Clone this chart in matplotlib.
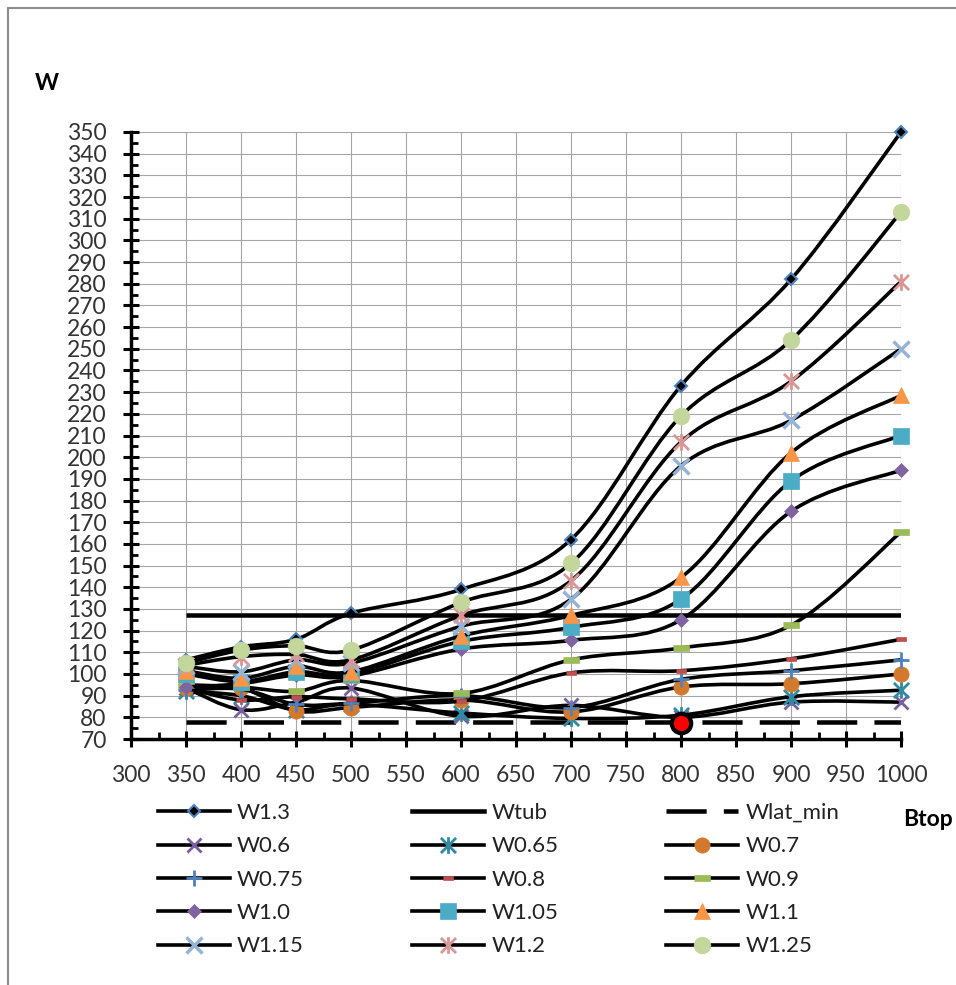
import numpy as np
import matplotlib
matplotlib.use("Agg")
import matplotlib.pyplot as plt
from matplotlib.path import Path
from matplotlib.patches import PathPatch, Rectangle
from matplotlib.lines import Line2D
from matplotlib.ticker import MultipleLocator

plt.rcParams['font.family'] = ['Lato', 'DejaVu Sans']

# ширина верха Btop
btop = [350, 400, 450, 500, 600, 700, 800, 900, 1000]

w_1_3 = [106.5, 112.5, 116, 128, 139, 162, 233, 282, 350]
w_0_6 = [93.5, 83.5, 87, 93.5, 80.5, 85.5, 80, 87, 87]
w_0_65 = [92, 90, 83.5, 86, 82, 79.5, 81, 89.5, 92.5]
w_0_7 = [93.5, 93.5, 83, 84.5, 88, 82.5, 94, 95.5, 100]
w_0_75 = [92.5, 93, 86, 86.5, 90, 84.5, 97.5, 101.5, 106.5]
w_0_8 = [93.5, 88, 89.5, 88.5, 87.5, 100.5, 101.5, 107, 116]
w_0_9 = [95, 94, 92, 97, 91, 106.5, 112, 122.5, 165.5]
w_1_0 = [94, 95.5, 99.5, 99, 111.5, 115.5, 125, 175, 194]
w_1_05 = [100, 96.5, 101, 100, 115, 121.5, 134.5, 189, 210]
w_1_1 = [101.5, 98, 103.5, 101, 117.5, 127, 144.5, 202, 228.5]
w_1_15 = [103.5, 101, 106.5, 105, 122, 134.5, 196, 217, 250]
w_1_2 = [104, 108, 109, 106.5, 127, 143, 207, 235, 281]
w_1_25 = [105, 111, 113, 111, 133, 151, 219, 254, 313]

w_tub = 127
w_lat_min = 78
opt_btop = [800]
opt_w = [77.5]


def smooth_path(xs, ys):
    """Сглаженная линия как в Excel (кривые Безье через точки)."""
    pts = np.column_stack([xs, ys]).astype(float)
    n = len(pts)
    verts = [pts[0]]
    codes = [Path.MOVETO]
    for i in range(n - 1):
        p0 = pts[max(i - 1, 0)]
        p1 = pts[i]
        p2 = pts[i + 1]
        p3 = pts[min(i + 2, n - 1)]
        verts += [p1 + (p2 - p0) / 6, p2 - (p3 - p1) / 6, p2]
        codes += [Path.CURVE4] * 3
    return Path(verts, codes)


star = Path([(-1, -1), (1, 1), (-1, 1), (1, -1), (0, -1.1), (0, 1.1)],
            [Path.MOVETO, Path.LINETO, Path.MOVETO, Path.LINETO, Path.MOVETO, Path.LINETO])
dash_wide = [(-1, -0.33), (1, -0.33), (1, 0.33), (-1, 0.33)]
dash_short = [(-1, -0.5), (1, -0.5), (1, 0.5), (-1, 0.5)]

LW = 2.6
styles = {
    'W1.3': dict(marker='D', ms=6.5, mfc='black', mec='#4f81bd', mew=1.5),
    'W0.6': dict(marker='x', ms=10, mfc='none', mec='#7a5ea0', mew=2),
    'W0.65': dict(marker=star, ms=12, mfc='none', mec='#2f8aa3', mew=2),
    'W0.7': dict(marker='o', ms=11, mfc='#d3792d', mec='#d3792d', mew=0.5),
    'W0.75': dict(marker='+', ms=12, mfc='none', mec='#4f81bd', mew=2),
    'W0.8': dict(marker=dash_short, ms=7, mfc='#c0504d', mec='#c0504d', mew=0.5),
    'W0.9': dict(marker=dash_wide, ms=11, mfc='#9bbb59', mec='#9bbb59', mew=0.5),
    'W1.0': dict(marker='D', ms=7.5, mfc='#8064a2', mec='#8064a2', mew=0.5),
    'W1.05': dict(marker='s', ms=11, mfc='#4bacc6', mec='#4bacc6', mew=0.5),
    'W1.1': dict(marker='^', ms=12, mfc='#f79646', mec='#f79646', mew=0.5),
    'W1.15': dict(marker='x', ms=11, mfc='none', mec='#95b3d7', mew=2.5),
    'W1.2': dict(marker=star, ms=12, mfc='none', mec='#d99694', mew=2),
    'W1.25': dict(marker='o', ms=12, mfc='#c3d69b', mec='#c3d69b', mew=0.5),
}

series = [
    ('W0.6', w_0_6), ('W0.65', w_0_65), ('W0.7', w_0_7), ('W0.75', w_0_75),
    ('W0.8', w_0_8), ('W0.9', w_0_9), ('W1.0', w_1_0), ('W1.05', w_1_05),
    ('W1.1', w_1_1), ('W1.15', w_1_15), ('W1.2', w_1_2), ('W1.25', w_1_25),
]

fig = plt.figure(figsize=(9.56, 9.85), dpi=100)
ax = fig.add_axes([131 / 956, 1 - 739 / 985, 770 / 956, 607 / 985])

z = 3
handles = {}

# W1.3
ax.add_patch(PathPatch(smooth_path(btop, w_1_3), fill=False, edgecolor='black',
                       lw=LW, zorder=z, clip_on=False))
ax.plot(btop, w_1_3, ls='none', zorder=z + 0.5, clip_on=False, **styles['W1.3'])
handles['W1.3'] = Line2D([], [], color='black', lw=LW, **styles['W1.3'])
z += 1

# Wtub и Wlat_min
ax.plot([btop[0], btop[-1]], [w_tub, w_tub], color='black', lw=3.25, zorder=z,
        solid_capstyle='butt')
handles['Wtub'] = Line2D([], [], color='black', lw=3.25)
z += 1
ax.plot([btop[0], btop[-1]], [w_lat_min, w_lat_min], color='black', lw=3.25,
        ls=(0, (8.9, 3.8)), zorder=z, dash_capstyle='butt')
handles['Wlat_min'] = Line2D([], [], color='black', lw=3.25, ls=(0, (8.9, 3.8)))
z += 1

for name, vals in series:
    ax.add_patch(PathPatch(smooth_path(btop, vals), fill=False, edgecolor='black',
                           lw=LW, zorder=z, clip_on=False))
    ax.plot(btop, vals, ls='none', zorder=z + 0.5, clip_on=False, **styles[name])
    handles[name] = Line2D([], [], color='black', lw=LW, **styles[name])
    z += 1

# точка минимума
ax.plot(opt_btop, opt_w, ls='none', marker='o', ms=14, mfc='red', mec='black',
        mew=3, zorder=z + 1, clip_on=False)

ax.set_xlim(300, 1000)
ax.set_ylim(70, 350)
ax.set_xticks(np.arange(300, 1001, 50))
ax.set_yticks(np.arange(70, 351, 10))
ax.xaxis.set_minor_locator(MultipleLocator(25))
ax.yaxis.set_minor_locator(MultipleLocator(5))
ax.grid(True, which='major', color='#a6a6a6', lw=0.8)
ax.set_axisbelow(True)
for s in ['top', 'right']:
    ax.spines[s].set_visible(False)
for s in ['left', 'bottom']:
    ax.spines[s].set_linewidth(2.5)
    ax.spines[s].set_zorder(2)
ax.tick_params(which='major', direction='inout', length=11, width=2.2,
               labelsize=16.5, labelcolor='#333333')
ax.tick_params(axis='y', which='major', pad=12)
ax.tick_params(axis='x', which='major', pad=13)
ax.tick_params(which='minor', direction='in', length=5, width=2)

order = ['W1.3', 'W0.6', 'W0.75', 'W1.0', 'W1.15',
         'Wtub', 'W0.65', 'W0.8', 'W1.05', 'W1.2',
         'Wlat_min', 'W0.7', 'W0.9', 'W1.1', 'W1.25']
fig.legend([handles[k] for k in order], order, ncol=3, loc='upper left',
           bbox_to_anchor=(158 / 956, 1 - 803 / 985), frameon=False,
           fontsize=16, handlelength=3.24, handletextpad=0.32,
           labelspacing=0.6, columnspacing=4.86, borderpad=0,
           borderaxespad=0, labelcolor='#222222')

fig.text(35 / 956, 1 - 84 / 985, 'W', fontsize=16.5, fontweight='bold', va='center')
fig.text(903 / 956, 1 - 819 / 985, 'Btop', fontsize=16.5, fontweight='bold',
         va='center')

fig.add_artist(Rectangle((8 / 956, -0.1), 1.2, 1.1 - 8 / 985,
                         transform=fig.transFigure, fill=False,
                         edgecolor='#8c8c8c', lw=1.5))

fig.savefig('out.png', dpi=100)
